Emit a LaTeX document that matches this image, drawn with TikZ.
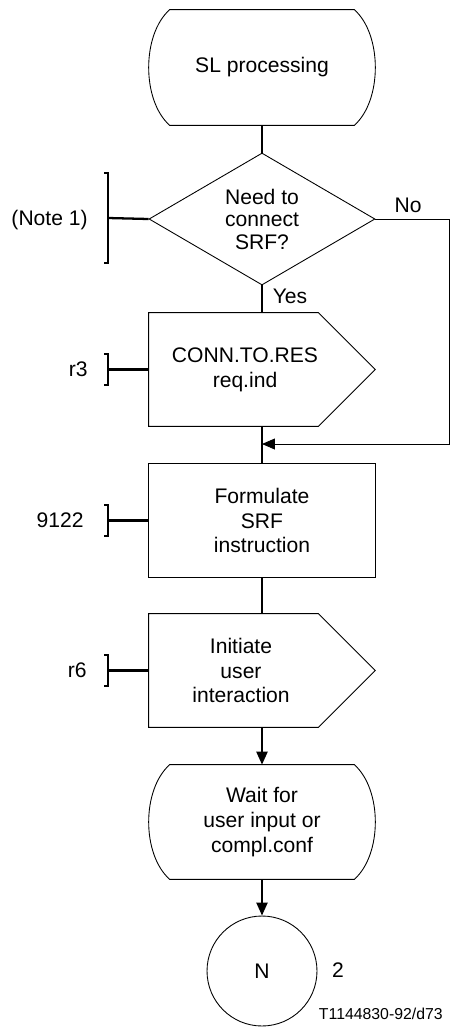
\documentclass[tikz,border=0pt]{standalone}
\usepackage{fontspec}
\setmainfont{Liberation Sans}
\usetikzlibrary{shapes.geometric,arrows.meta}

\begin{document}
\begin{tikzpicture}[x=0.02cm, y=-0.02cm,
  every node/.style={font=\fontsize{12}{14.2}\selectfont, align=center},
  frame/.style={minimum width=4.52cm, minimum height=2.26cm, inner sep=0pt},
  outline/.style={line width=0.5pt},
  flow/.style={line width=1.3pt},
  lbl/.style={anchor=east, inner sep=0pt},
  tip/.style={-{Triangle[length=2.6mm,width=2.2mm]}}]
  \useasboundingbox (0,0) rectangle (451,1032);

  % Start state
  \node[frame, minimum width=4.56cm, minimum height=2.3cm] (start) at (262,67.5) {SL processing};
  \draw[outline] ([xshift=0.44cm]start.north west) -- ([xshift=-0.44cm]start.north east)
    .. controls ([xshift=0.12cm,yshift=-0.5cm]start.north east) and ([xshift=0.12cm,yshift=0.5cm]start.south east) .. ([xshift=-0.44cm]start.south east)
    -- ([xshift=0.44cm]start.south west)
    .. controls ([xshift=-0.12cm,yshift=0.5cm]start.south west) and ([xshift=-0.12cm,yshift=-0.5cm]start.north west) .. ([xshift=0.44cm]start.north west) -- cycle;

  % Decision
  \node[draw, outline, diamond, aspect=1.7, inner sep=0pt, minimum width=4.52cm, minimum height=2.64cm,
    font=\fontsize{12}{12.8}\selectfont] (need) at (262,219) {Need to\\connect\\SRF?};
  \node (no) at (408,205) {No};
  \node (yes) at (290,296) {Yes};

  % Output signal
  \node[frame] (conn) at (262,369.5) {};
  \node (conntxt) at ([xshift=-0.34cm]conn.center) {CONN.TO.RES\\req.ind};
  \draw[outline] (conn.north west) -- ([xshift=-1.14cm]conn.north east) -- (conn.east)
    -- ([xshift=-1.14cm]conn.south east) -- (conn.south west) -- cycle;

  % Task
  \node[frame] (form) at (262,520.5) {Formulate\\SRF\\instruction};
  \draw[outline] (form.north west) rectangle (form.south east);

  % Output signal
  \node[frame] (init) at (262,670.5) {};
  \node (inittxt) at ([xshift=-0.42cm]init.center) {Initiate\\user\\interaction};
  \draw[outline] (init.north west) -- ([xshift=-1.14cm]init.north east) -- (init.east)
    -- ([xshift=-1.14cm]init.south east) -- (init.south west) -- cycle;

  % Wait state
  \node[frame, minimum width=4.56cm, minimum height=2.28cm] (wait) at (262,822) {Wait for\\user input or\\compl.conf};
  \draw[outline] ([xshift=0.44cm]wait.north west) -- ([xshift=-0.44cm]wait.north east)
    .. controls ([xshift=0.12cm,yshift=-0.5cm]wait.north east) and ([xshift=0.12cm,yshift=0.5cm]wait.south east) .. ([xshift=-0.44cm]wait.south east)
    -- ([xshift=0.44cm]wait.south west)
    .. controls ([xshift=-0.12cm,yshift=0.5cm]wait.south west) and ([xshift=-0.12cm,yshift=-0.5cm]wait.north west) .. ([xshift=0.44cm]wait.north west) -- cycle;

  % Connector
  \node[draw, outline, circle, minimum size=2.2cm, inner sep=0pt] (nout) at (262,971) {N};
  \node (two) at (338,970) {2};

  % Flow lines
  \coordinate (merge) at (262,444);
  \coordinate (ncorner) at (449,444);
  \draw[flow] (start.south) -- (need.north);
  \draw[flow] (need.south) -- (conn.north);
  \draw[flow] (conn.south) -- (form.north);
  \draw[outline, tip] (need.east) -| (ncorner) -- (merge);
  \draw[flow] (form.south) -- (init.north);
  \draw[flow, tip] (init.south) -- (wait.north);
  \draw[flow, tip] (wait.south) -- (nout.north);

  % References
  \node[lbl] (note) at (88,220) {(Note 1)};
  \coordinate (bnote) at (108,218);
  \draw[flow] (104,173) -- (108,173) -- (108,263) -- (104,263);
  \draw[flow] (bnote) -- (need.west);

  \node[lbl] (r3) at (88,369.5) {r3};
  \coordinate (bconn) at (108,369.5);
  \draw[flow] (104,354) -- (108,354) -- (108,385) -- (104,385);
  \draw[flow] (bconn) -- (conn.west);

  \node[lbl] (n9122) at (84,520.5) {9122};
  \coordinate (bform) at (108,520.5);
  \draw[flow] (104,505) -- (108,505) -- (108,536) -- (104,536);
  \draw[flow] (bform) -- (form.west);

  \node[lbl] (r6) at (87,670.5) {r6};
  \coordinate (binit) at (108,670.5);
  \draw[flow] (104,655) -- (108,655) -- (108,686) -- (104,686);
  \draw[flow] (binit) -- (init.west);

  \node[lbl, font=\fontsize{9}{11}\selectfont] (ref) at (443,1014) {T1144830-92/d73};
\end{tikzpicture}
\end{document}
